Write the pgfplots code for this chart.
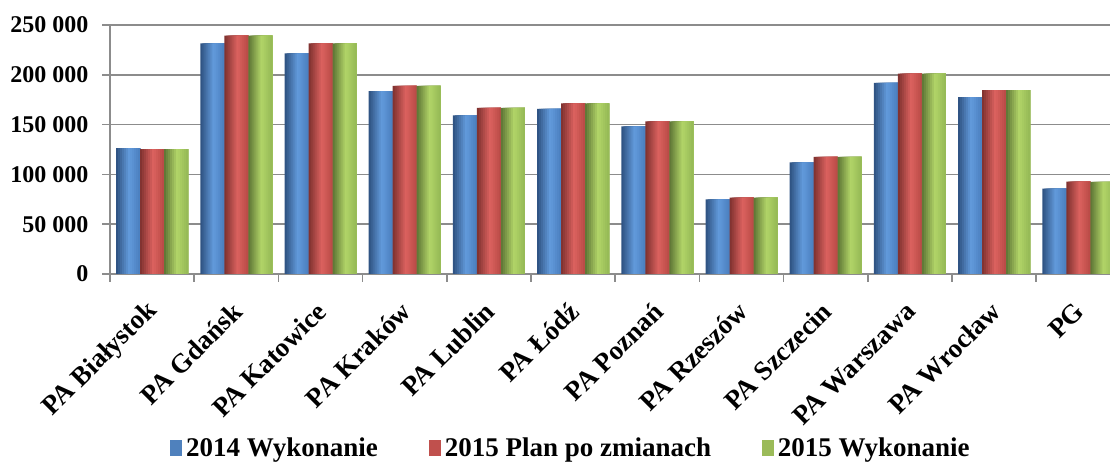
\documentclass[border=0pt]{standalone}
\usepackage{fontspec}
\setmainfont{Liberation Serif}
\usepackage{pgfplots}
\usepackage{pgfplotstable}
\pgfplotsset{compat=1.18}

\definecolor{axgray}{HTML}{8C8C8C}
\definecolor{bluD}{HTML}{2C4E7C}
\definecolor{bluL}{HTML}{629BDC}
\definecolor{bluR}{HTML}{4A7EBE}
\definecolor{redD}{HTML}{7A2F2D}
\definecolor{redL}{HTML}{DC625F}
\definecolor{redR}{HTML}{B84A46}
\definecolor{grnD}{HTML}{5A7133}
\definecolor{grnL}{HTML}{B2D568}
\definecolor{grnR}{HTML}{94B855}
\definecolor{blu}{HTML}{4F81BD}
\definecolor{red}{HTML}{C0504D}
\definecolor{grn}{HTML}{9BBB59}

% x = category, a = 2014 Wykonanie, b = 2015 Plan po zmianach, c = 2015 Wykonanie
\pgfplotstableread{
x  a       b       c
0  126500  125500  125500
1  231600  239300  239300
2  221600  231600  231600
3  183700  189000  189000
4  159300  166700  166700
5  165700  171400  171400
6  148300  153300  153300
7  75000   76800   76800
8  112100  117500  117500
9  191800  201100  201100
10 177700  184700  184700
11 85600   92700   92400
}\datatable

% one layer of a shaded bar: #1 column, #2 shift, #3 width, #4 colour
\newcommand{\strip}[4]{%
  \addplot[ybar, draw=none, fill=#4, bar width=#3, bar shift=#2, forget plot]
    table[x=x, y=#1] {\datatable};}

% a shaded bar: each layer runs from its left edge to the bar's right edge,
% so that layers drawn left to right leave no seams.
% #1 column, #2 left edge of bar (pt), #3 dark, #4 light, #5 right colour
\newcommand{\gradbar}[5]{%
  \strip{#1}{#2pt+6pt}{12pt}{#4!8!#3}
  \strip{#1}{#2pt+6.5pt}{11pt}{#4!23!#3}
  \strip{#1}{#2pt+7pt}{10pt}{#4!38!#3}
  \strip{#1}{#2pt+7.5pt}{9pt}{#4!53!#3}
  \strip{#1}{#2pt+8pt}{8pt}{#4!68!#3}
  \strip{#1}{#2pt+8.5pt}{7pt}{#4!83!#3}
  \strip{#1}{#2pt+9pt}{6pt}{#4!98!#3}
  \strip{#1}{#2pt+9.5pt}{5pt}{#4!83!#5}
  \strip{#1}{#2pt+10pt}{4pt}{#4!65!#5}
  \strip{#1}{#2pt+10.5pt}{3pt}{#4!46!#5}
  \strip{#1}{#2pt+11pt}{2pt}{#4!28!#5}
  \strip{#1}{#2pt+11.5pt}{1pt}{#4!9!#5}}

\begin{document}
\begin{tikzpicture}
\begin{axis}[
    at={(0pt,0pt)}, anchor=south west,
    scale only axis, width=500pt, height=124.5pt,
    xmin=-0.5, xmax=11.376, ymin=0, ymax=250000,
    axis lines=left,
    axis line style={-, draw=axgray, line width=0.8pt},
    tick align=outside,
    major tick length=3.8pt,
    tick style={draw=axgray, line width=0.8pt},
    ymajorgrids,
    grid style={draw=axgray, line width=0.8pt},
    ytick={0,50000,100000,150000,200000,250000},
    yticklabels={0,50 000,100 000,150 000,200 000,250 000},
    scaled y ticks=false,
    yticklabel style={font=\bfseries\fontsize{12}{14}\selectfont, xshift=-3.5pt},
    xtick={-0.5,0.5,...,10.5},
    xticklabels={PA Białystok,PA Gdańsk,PA Katowice,PA Kraków,PA Lublin,PA Łódź,PA Poznań,PA Rzeszów,PA Szczecin,PA Warszawa,PA Wrocław,PG},
    xticklabel style={font=\bfseries\fontsize{13.5}{15}\selectfont, rotate=45, anchor=east, xshift=6.5pt, yshift=-24.3pt, inner sep=0pt},
    legend columns=3,
    legend style={at={(0.462,-0.70)}, anchor=center, draw=none, fill=none,
        font=\bfseries\fontsize{13.5}{15}\selectfont,
        /tikz/every even column/.append style={column sep=23.5pt}},
]
\gradbar{a}{-18}{bluD}{bluL}{bluR}
\gradbar{b}{-6}{redD}{redL}{redR}
\gradbar{c}{6}{grnD}{grnL}{grnR}

\addlegendimage{legend image code/.code={\fill[blu] (0pt,-3.5pt) rectangle (5.5pt,4pt);}}
\addlegendimage{legend image code/.code={\fill[red] (0pt,-3.5pt) rectangle (5.5pt,4pt);}}
\addlegendimage{legend image code/.code={\fill[grn] (0pt,-3.5pt) rectangle (5.5pt,4pt);}}
\legend{2014 Wykonanie,2015 Plan po zmianach,2015 Wykonanie}
\end{axis}
\pgfresetboundingbox
\path[use as bounding box] (-55pt,-95.5pt) rectangle (500pt,137pt);
\end{tikzpicture}
\end{document}
